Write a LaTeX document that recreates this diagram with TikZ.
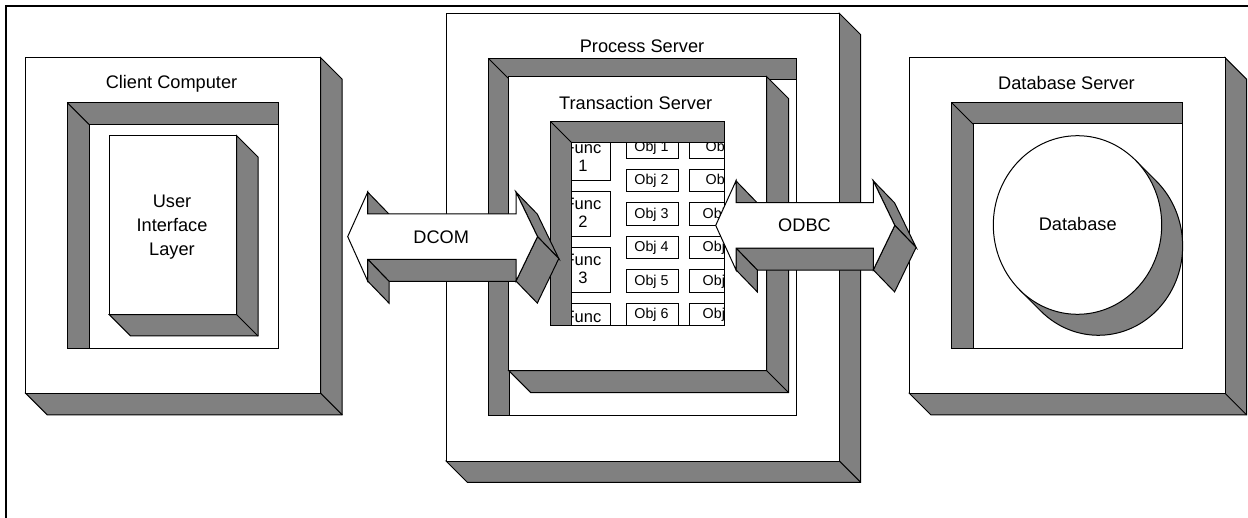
\documentclass[tikz,border=0pt]{standalone}
\usepackage{fontspec}
\setmainfont{Liberation Sans}
\definecolor{shade}{RGB}{128,128,128}
% raised box: x1 y1 x2 y2 depth
\newcommand\raisedbox[5]{%
  \filldraw[face] (#3,#2) -- (#3+#5,#2+#5) -- (#3+#5,#4+#5) -- (#1+#5,#4+#5) -- (#1,#4) -- (#3,#4) -- cycle;
  \draw[edge] (#3,#4) -- (#3+#5,#4+#5);
  \filldraw[front] (#1,#2) rectangle (#3,#4);}
% bands of a recessed frame: x1 y1 x2 y2 depth
\newcommand\recessbands[5]{%
  \filldraw[face] (#1,#2) -- (#3,#2) -- (#3,#2+#5) -- (#1+#5,#2+#5) -- (#1+#5,#4) -- (#1,#4) -- cycle;
  \draw[edge] (#1,#2) -- (#1+#5,#2+#5);}
\newcommand\recessframe[5]{%
  \filldraw[front] (#1,#2) rectangle (#3,#4);
  \recessbands{#1}{#2}{#3}{#4}{#5}}
% 3D double block arrow: tip x, left step x, right step x, centre y
\newcommand\blockarrow[4]{%
  \filldraw[face] (#2,#4-44.5) -- (#2+21.3,#4-22.5) -- (#2+21.3,#4-0.7) -- (#2,#4-22.7) -- cycle;
  \filldraw[face] (#2,#4+22.7) -- (#3,#4+22.7) -- (#3+21.3,#4+44.7) -- (#2+21.3,#4+44.7) -- cycle;
  \filldraw[face] (#2,#4+22.7) -- (#2,#4+44.5) -- (#2+21.3,#4+66.5) -- (#2+21.3,#4+44.7) -- cycle;
  \filldraw[face] (#3,#4-44.5) -- (#3+21.3,#4-22.5) -- (#3+42.8,#4+22) -- (#3+21.5,#4) -- cycle;
  \filldraw[face] (#3+21.5,#4) -- (#3+42.8,#4+22) -- (#3+21.3,#4+66.5) -- (#3,#4+44.5) -- cycle;
  \filldraw[front] (#1,#4) -- (#2,#4-44.5) -- (#2,#4-22.7) -- (#3,#4-22.7) -- (#3,#4-44.5)
    -- (#3+21.5,#4) -- (#3,#4+44.5) -- (#3,#4+22.7) -- (#2,#4+22.7) -- (#2,#4+44.5) -- cycle;}
\begin{document}
\begin{tikzpicture}[x=0.5pt,y=-0.5pt,
  face/.style={fill=shade,draw=black,line width=0.5pt,line join=miter},
  edge/.style={draw=black,line width=0.5pt},
  front/.style={fill=white,draw=black,line width=0.5pt},
  cell/.style={fill=white,draw=black,line width=0.5pt},
  lbl/.style={inner sep=0pt,font=\fontsize{9.1}{11.85}\selectfont},
  multilbl/.style={inner sep=0pt,align=center,font=\fontsize{9.1}{11.85}\selectfont},
  objlbl/.style={inner sep=0pt,font=\fontsize{7.15}{8.6}\selectfont},
  funclbl/.style={inner sep=0pt,align=center,font=\fontsize{8.25}{9}\selectfont}]
\useasboundingbox (0,0) rectangle (1248,518);
% outer frame
\draw[line width=1pt] (6,518) -- (6,6) -- (1248,6);

% ---------- Client computer ----------
\raisedbox{25.7}{57.7}{320.7}{393.3}{21.5}
\recessframe{67.3}{102.7}{278.3}{348.3}{21.7}
\raisedbox{109.3}{135.7}{236.7}{314.7}{21.3}
\node[lbl,anchor=base] (client) at (171.5,89) {Client Computer};
\node[multilbl] (ui) at (172,227) {User\\Interface\\Layer};

% ---------- Process server ----------
\raisedbox{446}{13.3}{839.3}{461}{21.3}
\recessframe{488.3}{58.3}{796.7}{415}{21.2}
\raisedbox{508.8}{76.7}{766.7}{370.7}{21.8}
\node[lbl,anchor=base] (process) at (642,52.3) {Process Server};
\node[lbl,anchor=base] (trans) at (635.7,110) {Transaction Server};
% function / object panel
\filldraw[front] (550.7,121.7) rectangle (724.3,326);
\begin{scope}
  \clip (550.7,121.7) rectangle (724.3,326);
  \foreach \i/\t in {0/1,1/2,2/3}{
    \filldraw[cell] (555.3,135.5+56.1*\i) rectangle (610.7,180.5+56.1*\i);
    \node[funclbl] (func\t) at (583,157.2+56.1*\i) {Func\\\t};
  }
  \filldraw[cell] (555.3,303.8) rectangle (610.7,348.8);
  \node[funclbl,anchor=base] (func4) at (583,322.2) {Func};
  \foreach \i in {1,...,6}{
    \filldraw[cell] (626,135.8+33.5*\i-33.5) rectangle (678.3,158.1+33.5*\i-33.5);
    \node[objlbl,anchor=base] (obj\i) at (651.5,151.5+33.5*\i-33.5) {Obj \i};
    \filldraw[cell] (689.3,135.8+33.5*\i-33.5) rectangle (741.6,158.1+33.5*\i-33.5);
  }
  \node[objlbl,anchor=base west] (objb1) at (705.3,151.5) {Obj};
  \node[objlbl,anchor=base west] (objb2) at (705.3,185) {Obj};
  \node[objlbl,anchor=base west] (objb3) at (702.3,218.5) {Obj};
  \node[objlbl,anchor=base west] (objb4) at (702.3,252) {Obj};
  \node[objlbl,anchor=base west] (objb5) at (702.3,285.5) {Obj};
  \node[objlbl,anchor=base west] (objb6) at (702.3,319) {Obj};
\end{scope}
\recessbands{550.7}{121.7}{724.3}{326}{20.8}
\draw[edge] (550.7,121.7) rectangle (724.3,326);

% ---------- Database server ----------
\raisedbox{909.3}{57.7}{1225}{393.3}{21.5}
\recessframe{951.7}{102.7}{1182.7}{348.3}{21.3}
\filldraw[face] (1135.2,160) -- (1156.2,181)
  arc[start angle=-46.7, end angle=133.3, x radius=84.2, y radius=89.3] -- (1019.8,290) -- cycle;
\filldraw[front] (1077.5,225) ellipse [x radius=84.2, y radius=89.3];
\node[lbl,anchor=base] (dbserver) at (1066.5,89.3) {Database Server};
\node[lbl,anchor=base] (db) at (1077.7,231) {Database};

% ---------- connectors (3D block arrows) ----------
\blockarrow{347.7}{367.7}{516}{236.6}
\node[lbl,anchor=base] (dcom) at (441.2,243.3) {DCOM};
\blockarrow{715.7}{736}{873.3}{225.4}
\node[lbl,anchor=base] (odbc) at (804.5,232) {ODBC};
\end{tikzpicture}
\end{document}
